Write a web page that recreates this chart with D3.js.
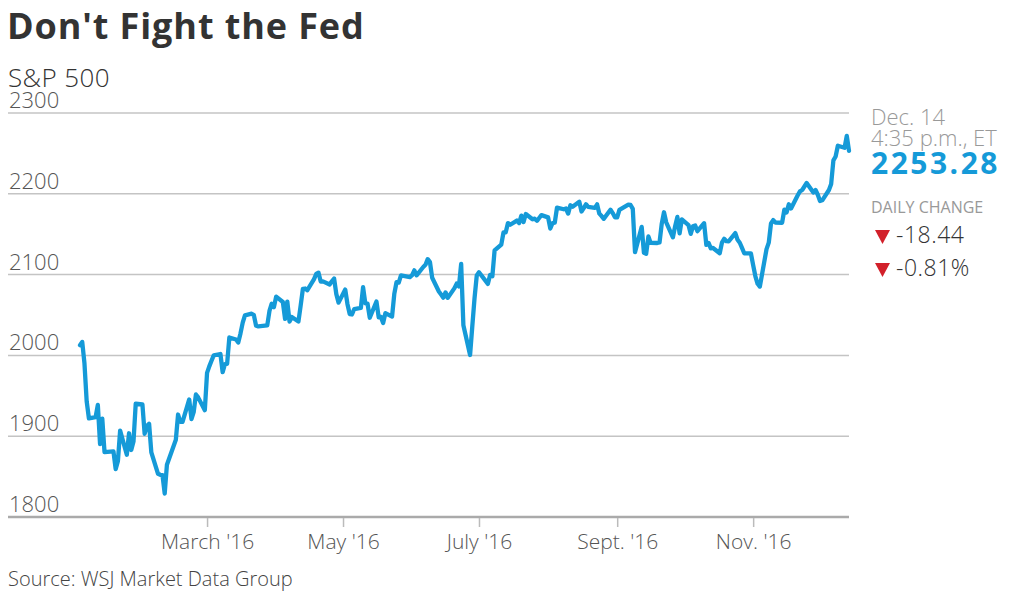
<!DOCTYPE html>
<html>
<head>
<meta charset="utf-8">
<script src="https://cdn.jsdelivr.net/npm/d3@7"></script>
<style>
  body { margin: 0; background: #fff; }
  svg { display: block; font-family: "Open Sans", sans-serif; }
</style>
</head>
<body>
<div id="chart"></div>
<script>
// S&P 500 daily closes, 2016
const tradingDays = [
  "01-04","01-05","01-06","01-07","01-08","01-11","01-12","01-13","01-14","01-15","01-19","01-20","01-21","01-22","01-25","01-26","01-27","01-28","01-29",
  "02-01","02-02","02-03","02-04","02-05","02-08","02-09","02-10","02-11","02-12","02-16","02-17","02-18","02-19","02-22","02-23","02-24","02-25","02-26","02-29",
  "03-01","03-02","03-03","03-04","03-07","03-08","03-09","03-10","03-11","03-14","03-15","03-16","03-17","03-18","03-21","03-22","03-23","03-24","03-28","03-29","03-30","03-31",
  "04-01","04-04","04-05","04-06","04-07","04-08","04-11","04-12","04-13","04-14","04-15","04-18","04-19","04-20","04-21","04-22","04-25","04-26","04-27","04-28","04-29",
  "05-02","05-03","05-04","05-05","05-06","05-09","05-10","05-11","05-12","05-13","05-16","05-17","05-18","05-19","05-20","05-23","05-24","05-25","05-26","05-27","05-31",
  "06-01","06-02","06-03","06-06","06-07","06-08","06-09","06-10","06-13","06-14","06-15","06-16","06-17","06-20","06-21","06-22","06-23","06-24","06-27","06-28","06-29","06-30",
  "07-01","07-05","07-06","07-07","07-08","07-11","07-12","07-13","07-14","07-15","07-18","07-19","07-20","07-21","07-22","07-25","07-26","07-27","07-28","07-29",
  "08-01","08-02","08-03","08-04","08-05","08-08","08-09","08-10","08-11","08-12","08-15","08-16","08-17","08-18","08-19","08-22","08-23","08-24","08-25","08-26","08-29","08-30","08-31",
  "09-01","09-02","09-06","09-07","09-08","09-09","09-12","09-13","09-14","09-15","09-16","09-19","09-20","09-21","09-22","09-23","09-26","09-27","09-28","09-29","09-30",
  "10-03","10-04","10-05","10-06","10-07","10-10","10-11","10-12","10-13","10-14","10-17","10-18","10-19","10-20","10-21","10-24","10-25","10-26","10-27","10-28","10-31",
  "11-01","11-02","11-03","11-04","11-07","11-08","11-09","11-10","11-11","11-14","11-15","11-16","11-17","11-18","11-21","11-22","11-23","11-25","11-28","11-29","11-30",
  "12-01","12-02","12-05","12-06","12-07","12-08","12-09","12-12","12-13","12-14"
];
const closes = [
  2012.66,2016.71,1990.26,1943.09,1922.03,1923.67,1938.68,1890.28,1921.84,1880.33,1881.33,1859.33,1868.99,1906.90,1877.08,1903.63,1882.95,1893.36,1940.24,
  1939.38,1903.03,1912.53,1915.45,1880.05,1853.44,1852.21,1851.86,1829.08,1864.78,1895.58,1926.82,1917.83,1917.78,1945.50,1921.27,1929.80,1951.70,1948.05,1932.23,
  1978.35,1986.45,1993.40,1999.99,2001.76,1979.26,1989.26,1989.57,2022.19,2019.64,2015.93,2027.22,2040.59,2049.58,2051.60,2049.80,2036.71,2035.94,2037.05,2055.01,2063.95,2059.74,
  2072.78,2066.13,2045.17,2066.66,2041.91,2047.60,2041.99,2061.72,2082.42,2082.78,2080.73,2094.34,2100.80,2102.40,2091.48,2091.58,2087.79,2091.70,2095.15,2075.81,2065.30,
  2081.43,2063.37,2051.12,2050.63,2057.14,2058.69,2084.39,2064.46,2064.11,2046.61,2066.66,2047.21,2047.63,2040.04,2052.32,2048.04,2076.06,2090.54,2090.10,2099.06,2096.95,
  2099.33,2105.26,2099.13,2109.41,2112.13,2119.12,2115.48,2096.07,2079.06,2075.32,2071.50,2077.99,2071.22,2083.25,2088.90,2085.45,2113.32,2037.41,2000.54,2036.09,2070.77,2098.86,
  2102.95,2088.55,2099.73,2097.90,2129.90,2137.16,2152.14,2152.43,2163.75,2161.74,2166.89,2163.78,2173.02,2165.17,2175.03,2168.48,2169.18,2166.58,2170.06,2173.60,
  2170.84,2157.03,2163.79,2164.25,2182.87,2180.89,2181.74,2175.49,2185.79,2184.05,2190.15,2178.15,2182.22,2187.02,2183.87,2182.64,2186.90,2175.44,2172.47,2169.04,2180.38,2176.12,2170.95,
  2170.86,2179.98,2186.48,2186.16,2181.30,2127.81,2159.04,2127.02,2125.77,2147.26,2139.16,2139.12,2139.76,2163.12,2177.18,2164.69,2146.10,2159.93,2171.37,2151.13,2168.27,
  2161.20,2150.49,2159.73,2160.77,2153.74,2163.66,2136.73,2139.18,2132.55,2132.98,2126.50,2139.60,2144.29,2141.34,2141.16,2151.33,2143.16,2139.43,2133.04,2126.41,2126.15,
  2111.72,2097.94,2088.66,2085.18,2131.52,2139.56,2163.26,2167.48,2164.45,2164.20,2180.39,2176.94,2187.12,2181.90,2198.18,2202.94,2204.72,2213.35,2201.72,2204.66,2198.81,
  2191.08,2191.95,2204.71,2212.23,2241.35,2246.19,2259.53,2256.96,2271.72,2253.28
];

const yTicks = [1800, 1900, 2000, 2100, 2200, 2300];
const xTickDates = ["2016-03-01", "2016-05-01", "2016-07-01", "2016-09-01", "2016-11-01"];
const xTickLabels = ["March '16", "May '16", "July '16", "Sept. '16", "Nov. '16"];

const lastDate = ["Dec. 14", "4:35 p.m., ET"];
const lastValue = "2253.28";
const dailyChange = ["-18.44", "-0.81%"];

const width = 1024;
const height = 598;
const left = 8, right = 849;
const blue = "#159ad8";

const parse = d3.timeParse("%Y-%m-%d");
const data = tradingDays.map((d, i) => ({ date: parse("2016-" + d), value: closes[i] }));

const x = d3.scaleTime()
  .domain([parse("2016-01-04"), parse("2016-12-14")])
  .range([80, 849]);

const y = d3.scaleLinear()
  .domain([1800, 2300])
  .range([517, 113]);

const svg = d3.select("#chart").append("svg")
  .attr("width", width)
  .attr("height", height);

// titles
svg.append("text")
  .attr("x", 7).attr("y", 39)
  .attr("font-weight", 700)
  .attr("font-size", 36)
  .attr("letter-spacing", 0.9)
  .attr("fill", "#333")
  .text("Don't Fight the Fed");

svg.append("text")
  .attr("x", 8).attr("y", 87)
  .attr("font-size", 26)
  .attr("font-weight", 300)
  .attr("letter-spacing", 0.4)
  .attr("fill", "#333")
  .text("S&P 500");

// gridlines + y labels
const grid = svg.append("g");
grid.selectAll("line")
  .data(yTicks)
  .join("line")
  .attr("x1", left).attr("x2", right)
  .attr("y1", d => y(d)).attr("y2", d => y(d))
  .attr("stroke", d => d === 1800 ? "#aaa" : "#c4c4c4")
  .attr("stroke-width", d => d === 1800 ? 2.5 : 1.5);

grid.selectAll("text")
  .data(yTicks)
  .join("text")
  .attr("x", 9)
  .attr("y", d => y(d) - 5)
  .attr("font-size", 22)
  .attr("font-weight", 300)
  .attr("fill", "#555")
  .text(d => d);

// x axis
const xAxis = d3.axisBottom(x)
  .tickValues(xTickDates.map(parse))
  .tickFormat((d, i) => xTickLabels[i])
  .tickSize(9);

const gx = svg.append("g")
  .attr("transform", `translate(0,${y(1800) + 1})`)
  .call(xAxis);
gx.select(".domain").remove();
gx.selectAll(".tick line").attr("stroke", "#bbb").attr("stroke-width", 1.5);
gx.selectAll(".tick text")
  .attr("y", 31)
  .attr("dy", null)
  .attr("font-family", "'Open Sans', sans-serif")
  .attr("font-size", 21)
  .attr("font-weight", 300)
  .attr("fill", "#555");

// the line
const line = d3.line()
  .x(d => x(d.date))
  .y(d => y(d.value));

svg.append("path")
  .datum(data)
  .attr("fill", "none")
  .attr("stroke", blue)
  .attr("stroke-width", 4.3)
  .attr("stroke-linejoin", "round")
  .attr("stroke-linecap", "round")
  .attr("d", line);

// right side annotation
const ann = svg.append("g").attr("transform", "translate(871,0)");
ann.selectAll(".when")
  .data(lastDate)
  .join("text")
  .attr("class", "when")
  .attr("x", 0)
  .attr("y", (d, i) => 125 + i * 21)
  .attr("font-size", 22)
  .attr("font-weight", 300)
  .attr("fill", "#999")
  .text(d => d);

ann.append("text")
  .attr("x", 0).attr("y", 174)
  .attr("font-size", 30)
  .attr("font-weight", 700)
  .attr("letter-spacing", 2.5)
  .attr("fill", blue)
  .text(lastValue);

ann.append("text")
  .attr("x", 0).attr("y", 213)
  .attr("font-size", 16)
  .attr("fill", "#999")
  .text("DAILY CHANGE");

const chg = ann.selectAll(".chg")
  .data(dailyChange)
  .join("g")
  .attr("class", "chg")
  .attr("transform", (d, i) => `translate(0,${243 + i * 33})`);
chg.append("path")
  .attr("d", "M4,-13 L19,-13 L11.5,1 Z")
  .attr("fill", "#d2202a");
chg.append("text")
  .attr("x", 25)
  .attr("font-size", 23)
  .attr("font-weight", 300)
  .attr("letter-spacing", 0.5)
  .attr("fill", "#333")
  .text(d => d);

// source
svg.append("text")
  .attr("x", 8).attr("y", 586)
  .attr("font-size", 20)
  .attr("font-weight", 300)
  .attr("fill", "#444")
  .text("Source: WSJ Market Data Group");
</script>
</body>
</html>
